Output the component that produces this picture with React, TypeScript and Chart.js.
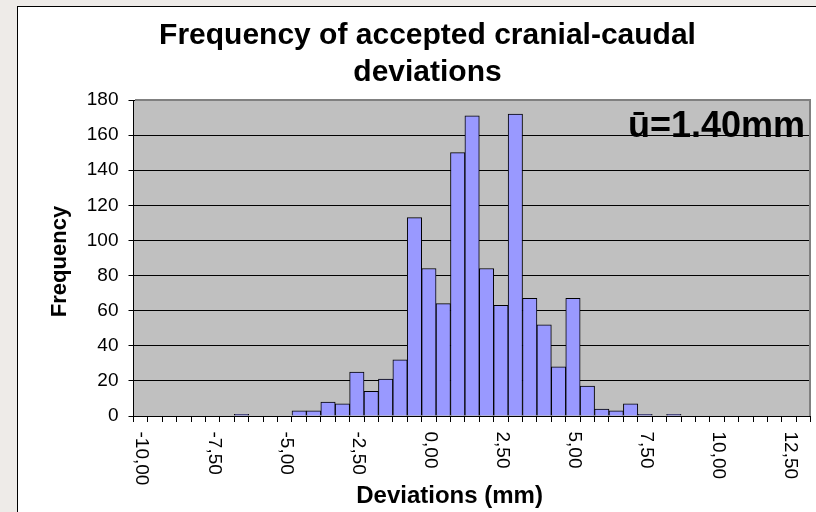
import React, { useEffect, useRef } from "react";
import { Chart, registerables } from "chart.js";

Chart.register(...registerables);

const binCenters = [
  -10, -9.5, -9, -8.5, -8, -7.5, -7, -6.5, -6, -5.5, -5, -4.5, -4, -3.5, -3, -2.5,
  -2, -1.5, -1, -0.5, 0, 0.5, 1, 1.5, 2, 2.5, 3, 3.5, 4, 4.5, 5, 5.5, 6, 6.5, 7,
  7.5, 8, 8.5, 9, 9.5, 10, 10.5, 11, 11.5, 12, 12.5, 13,
];
const frequencies = [
  0, 0, 0, 0, 0, 0, 0, 1, 0, 0, 0, 3, 3, 8, 7, 25, 14, 21, 32, 113, 84, 64, 150,
  171, 84, 63, 172, 67, 52, 28, 67, 17, 4, 3, 7, 1, 0, 1, 0, 0, 0, 0, 0, 0, 0, 0, 0,
];
const xTickValues = [-10, -7.5, -5, -2.5, 0, 2.5, 5, 7.5, 10, 12.5];
const xTickLabels = ["-10,00", "-7,50", "-5,00", "-2,50", "0,00", "2,50", "5,00", "7,50", "10,00", "12,50"];
const yMin = 0;
const yMax = 180;
const yStep = 20;
const chartTitle = ["Frequency of accepted cranial-caudal", "deviations"];
const xAxisTitle = "Deviations (mm)";
const yAxisTitle = "Frequency";
const meanLabel = "ū=1.40mm";

const FONT = "'Liberation Sans', Arial, sans-serif";

const decor = {
  id: "decor",
  beforeDraw(chart: any) {
    const { ctx, chartArea: a } = chart;
    ctx.save();
    ctx.fillStyle = "#c0c0c0";
    ctx.fillRect(a.left, a.top, a.right - a.left, a.bottom - a.top);
    ctx.restore();
  },
  afterDraw(chart: any) {
    const { ctx, chartArea: a } = chart;
    const xs = chart.scales.x;
    ctx.save();
    // plot frame (top/right)
    ctx.strokeStyle = "#808080";
    ctx.lineWidth = 2;
    ctx.beginPath();
    ctx.moveTo(Math.round(a.left) + 1, Math.round(a.top));
    ctx.lineTo(Math.round(a.right) - 1, Math.round(a.top));
    ctx.lineTo(Math.round(a.right) - 1, Math.round(a.bottom));
    ctx.stroke();

    ctx.fillStyle = "#000";
    // x tick labels, rotated clockwise
    ctx.font = `19px ${FONT}`;
    xTickValues.forEach((v, k) => {
      const i = binCenters.indexOf(v);
      if (i < 0) return;
      const x = xs.getPixelForTick(i);
      ctx.save();
      ctx.translate(x + 1, a.bottom + 15.5);
      ctx.rotate(Math.PI / 2);
      ctx.textAlign = "left";
      ctx.textBaseline = "middle";
      ctx.fillText(xTickLabels[k], 0, 0);
      ctx.restore();
    });

    // axis titles
    ctx.font = `bold 24px ${FONT}`;
    ctx.textAlign = "center";
    ctx.textBaseline = "alphabetic";
    ctx.fillText(xAxisTitle, (a.left + a.right) / 2 - 22.5, 496.3);

    ctx.save();
    ctx.font = `bold 22px ${FONT}`;
    ctx.translate(a.left - 67.5, (a.top + a.bottom) / 2 + 3.5);
    ctx.rotate(-Math.PI / 2);
    ctx.textAlign = "center";
    ctx.textBaseline = "alphabetic";
    ctx.fillText(yAxisTitle, 0, 0);
    ctx.restore();

    // chart title
    ctx.font = `bold 30px ${FONT}`;
    ctx.textAlign = "center";
    ctx.textBaseline = "alphabetic";
    ctx.fillText(chartTitle[0], chart.width / 2 - 1, 37);
    ctx.fillText(chartTitle[1], chart.width / 2 - 1, 73.5);

    // mean annotation
    ctx.font = `bold 36px ${FONT}`;
    ctx.textAlign = "right";
    ctx.fillText(meanLabel, a.right - 5.7, a.top + 37);
    ctx.restore();
  },
};

export default function App() {
  const ref = useRef<HTMLCanvasElement>(null);

  useEffect(() => {
    if (!ref.current) return;
    const chart = new Chart(ref.current, {
      type: "bar",
      data: {
        labels: binCenters.map((v) => String(v)),
        datasets: [
          {
            data: frequencies,
            backgroundColor: "#9999ff",
            borderColor: "#000000",
            borderWidth: 1,
            barPercentage: 1,
            categoryPercentage: 1,
          },
        ],
      },
      options: {
        responsive: false,
        animation: false,
        events: [],
        layout: { padding: { top: 93, left: 0, right: 28.3, bottom: 0 } },
        plugins: {
          legend: { display: false },
          title: { display: false },
          tooltip: { enabled: false },
        },
        scales: {
          x: {
            type: "category",
            offset: true,
            grid: {
              display: true,
              drawOnChartArea: false,
              drawTicks: true,
              tickLength: 6,
              color: "#000",
              offset: true,
              lineWidth: 1,
            },
            border: { display: true, color: "#000", width: 1 },
            ticks: { display: false, autoSkip: false },
            afterFit: (s: any) => {
              s.height = 96;
            },
          },
          y: {
            min: yMin,
            max: yMax,
            ticks: {
              stepSize: yStep,
              color: "#000",
              font: { family: FONT, size: 19 },
              padding: 10,
            },
            grid: { color: "#000", tickLength: 5, lineWidth: 1 },
            border: { display: true, color: "#000", width: 1 },
            afterFit: (s: any) => {
              s.width = 115.5;
            },
          },
        },
      },
      plugins: [decor],
    });
    return () => chart.destroy();
  }, []);

  return (
    <div
      style={{
        position: "fixed",
        left: 0,
        top: 0,
        width: 816,
        height: 512,
        overflow: "hidden",
        background: "#eeebe8",
      }}
    >
      <div
        style={{
          position: "absolute",
          left: 17,
          top: 6,
          width: 840,
          height: 520,
          border: "1px solid #000",
          background: "#ffffff",
        }}
      >
        <canvas ref={ref} width={821} height={505} style={{ display: "block" }} />
      </div>
    </div>
  );
}
